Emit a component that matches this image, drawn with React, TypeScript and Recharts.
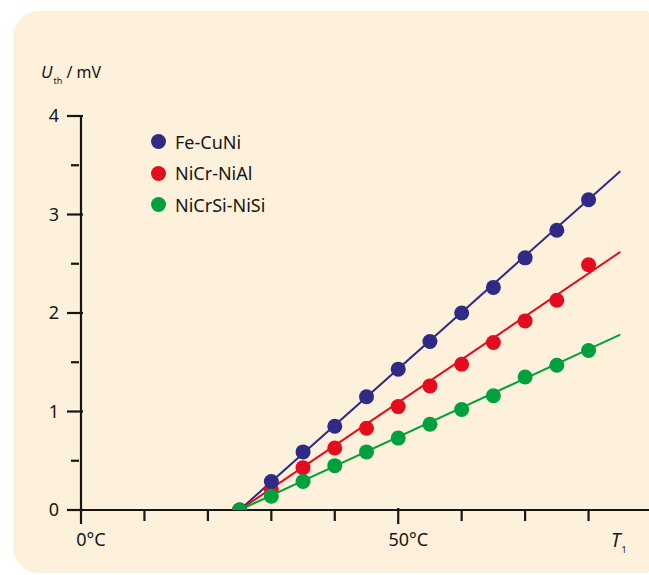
import {
  ComposedChart,
  Line,
  Scatter,
  XAxis,
  YAxis,
} from "recharts";

// measured points, T1 in °C
const temps = [25, 30, 35, 40, 45, 50, 55, 60, 65, 70, 75, 80];
const feCuNi = [0, 0.29, 0.59, 0.85, 1.15, 1.43, 1.71, 2.0, 2.26, 2.56, 2.84, 3.15];
const niCrNiAl = [0, 0.21, 0.43, 0.63, 0.83, 1.05, 1.26, 1.48, 1.7, 1.92, 2.13, 2.49];
const niCrSiNiSi = [0, 0.14, 0.29, 0.45, 0.59, 0.73, 0.87, 1.02, 1.16, 1.35, 1.47, 1.62];

// straight fit lines (end points)
const fitTemps = [25, 85];
const feCuNiFit = [0, 3.44];
const niCrNiAlFit = [0, 2.62];
const niCrSiNiSiFit = [0, 1.78];

const xTicks = [0, 10, 20, 30, 40, 50, 60, 70, 80];
const xTickLabels: Record<number, string> = { 0: "0°C", 50: "50°C" };
const yTicks = [0, 0.5, 1, 1.5, 2, 2.5, 3, 3.5, 4];

const series = [
  { name: "Fe-CuNi", color: "#2e2a86", values: feCuNi, fit: feCuNiFit },
  { name: "NiCr-NiAl", color: "#e30d1f", values: niCrNiAl, fit: niCrNiAlFit },
  { name: "NiCrSi-NiSi", color: "#00a13c", values: niCrSiNiSi, fit: niCrSiNiSiFit },
];

const toPoints = (xs: number[], ys: number[]) => xs.map((t, i) => ({ t, v: ys[i] }));

const FONT = "'Noto Sans', sans-serif";
const INK = "#161616";

const XTick = (props: any) => {
  const { x, y, payload } = props;
  const label = xTickLabels[payload.value];
  const half = label ? 8 : 5;
  return (
    <g>
      <line x1={x} x2={x} y1={y - half} y2={y + half} stroke={INK} strokeWidth={2.2} />
      {label && (
        <text x={x + 10} y={y + 30} textAnchor="middle" fontFamily={FONT} fontSize={18} fill={INK}>
          {label}
        </text>
      )}
    </g>
  );
};

const YTick = (props: any) => {
  const { x, y, payload } = props;
  const major = Number.isInteger(payload.value);
  const half = major ? 8 : 4;
  return (
    <g>
      <line x1={x - half} x2={x + half} y1={y} y2={y} stroke={INK} strokeWidth={2.2} />
      {major && (
        <text x={x - 16} y={y + 6} textAnchor="end" fontFamily={FONT} fontSize={18} fill={INK}>
          {payload.value}
        </text>
      )}
    </g>
  );
};

export default function App() {
  const drawOrder = [series[1], series[0], series[2]];
  return (
    <div
      style={{
        position: "absolute",
        left: 0,
        top: 0,
        width: 649,
        height: 575,
        overflow: "hidden",
        background: "#ffffff",
      }}
    >
      <div
        style={{
          position: "absolute",
          left: 13,
          top: 11,
          width: 640,
          height: 562,
          borderRadius: "26px 8px 8px 26px",
          background: "#fdf1db",
        }}
      />
      <div style={{ position: "absolute", left: 0, top: 0 }}>
        <ComposedChart
          width={660}
          height={575}
          margin={{ top: 116, left: 80, right: 8, bottom: 64 }}
        >
          <XAxis
            type="number"
            dataKey="t"
            domain={[0, 90]}
            ticks={xTicks}
            interval={0}
            height={1}
            tickLine={false}
            tickMargin={0}
            axisLine={{ stroke: INK, strokeWidth: 2.2 }}
            tick={<XTick />}
            allowDataOverflow
          />
          <YAxis
            type="number"
            dataKey="v"
            domain={[0, 4]}
            ticks={yTicks}
            interval={0}
            width={1}
            tickLine={false}
            tickMargin={0}
            axisLine={{ stroke: INK, strokeWidth: 2.2 }}
            tick={<YTick />}
            allowDataOverflow
          />
          {series.map((s) => (
            <Line
              key={"fit-" + s.name}
              data={toPoints(fitTemps, s.fit)}
              dataKey="v"
              stroke={s.color}
              strokeWidth={2}
              dot={false}
              activeDot={false}
              legendType="none"
              isAnimationActive={false}
            />
          ))}
          {drawOrder.map((s) => (
            <Scatter
              key={"pts-" + s.name}
              name={s.name}
              data={toPoints(temps, s.values)}
              dataKey="v"
              fill={s.color}
              isAnimationActive={false}
              shape={(p: any) => <circle cx={p.cx} cy={p.cy} r={7.5} fill={s.color} />}
            />
          ))}
        </ComposedChart>
      </div>
      <div
        style={{
          position: "absolute",
          left: 151,
          top: 126,
          fontFamily: FONT,
          fontSize: 18,
          color: INK,
        }}
      >
        {series.map((s) => (
          <div key={s.name} style={{ display: "flex", alignItems: "center", height: 31.5 }}>
            <span
              style={{
                width: 15,
                height: 15,
                borderRadius: "50%",
                background: s.color,
                display: "inline-block",
                marginRight: 9,
              }}
            />
            {s.name}
          </div>
        ))}
      </div>
      <div
        style={{
          position: "absolute",
          left: 41,
          top: 60,
          fontFamily: FONT,
          fontSize: 16,
          color: INK,
          whiteSpace: "nowrap",
        }}
      >
        <span style={{ fontStyle: "italic", fontSize: 17 }}>U</span>
        <span style={{ fontSize: 9, position: "relative", top: 6, marginLeft: 1 }}>th</span>
        <span> / mV</span>
      </div>
      <div
        style={{
          position: "absolute",
          left: 611,
          top: 527,
          fontFamily: FONT,
          fontSize: 19,
          color: INK,
          whiteSpace: "nowrap",
        }}
      >
        <span style={{ fontStyle: "italic" }}>T</span>
        <span style={{ fontSize: 9, position: "relative", top: 6, marginLeft: 1 }}>1</span>
      </div>
    </div>
  );
}
